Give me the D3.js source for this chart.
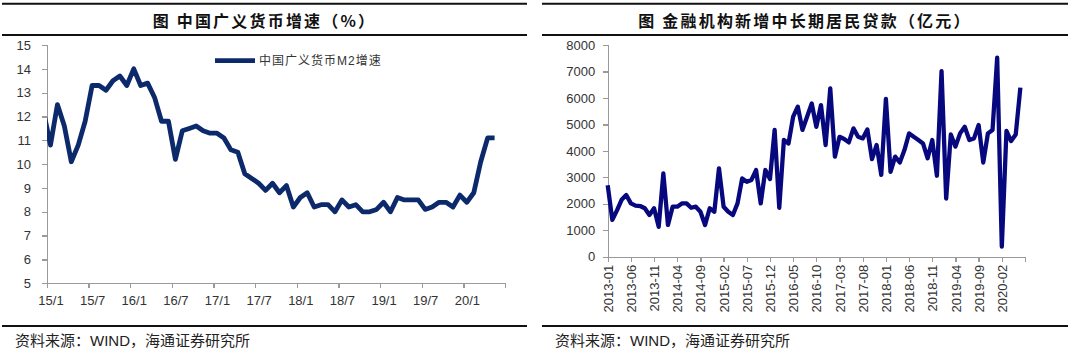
<!DOCTYPE html>
<html>
<head>
<meta charset="utf-8">
<script src="https://cdn.jsdelivr.net/npm/d3@7"></script>
<style>
  body { margin: 0; background: #fff; }
  svg { display: block; }
  .axis path, .axis line { stroke: #9a9a9a; stroke-width: 1.3px; shape-rendering: crispEdges; }
  .axis text { font-family: "Liberation Sans", Arial, sans-serif; font-size: 13px; fill: #333; }
</style>
</head>
<body>
<div id="chart"></div>
<script>
// ---- left chart: M2 growth, monthly, 2014/12 .. 2020/5
var m2Start = [2014, 12];
var m2Values = [12.2,
	10.8, 12.5, 11.6, 10.1, 10.8, 11.8, 13.3, 13.3, 13.1, 13.5, 13.7, 13.3,
	14.0, 13.3, 13.4, 12.8, 11.8, 11.8, 10.2, 11.4, 11.5, 11.6, 11.4, 11.3,
	11.3, 11.1, 10.6, 10.5, 9.6, 9.4, 9.2, 8.9, 9.2, 8.8, 9.1, 8.2,
	8.6, 8.8, 8.2, 8.3, 8.3, 8.0, 8.5, 8.2, 8.3, 8.0, 8.0, 8.1,
	8.4, 8.0, 8.6, 8.5, 8.5, 8.5, 8.1, 8.2, 8.4, 8.4, 8.2, 8.7,
	8.4, 8.8, 10.1, 11.1, 11.1];
var m2TickLabels = ["15/1", "15/7", "16/1", "16/7", "17/1", "17/7", "18/1", "18/7", "19/1", "19/7", "20/1", ""];
var m2YTicks = [5, 6, 7, 8, 9, 10, 11, 12, 13, 14, 15];

// ---- right chart: new medium/long-term household loans, 2013-01 .. 2020-06
var loanStart = [2013, 1];
var loanValues = [
	2700, 1390, 1750, 2150, 2330, 2015, 1930, 1915, 1830, 1575, 1830, 1130,
	3150, 1200, 1890, 1890, 2015, 2015, 1850, 1890, 1700, 1200, 1830, 1700,
	3340, 1890, 1700, 1575, 2015, 2960, 2830, 2900, 3275, 2015, 3275, 2935,
	4790, 1850, 4410, 4280, 5290, 5670, 4790, 5290, 5790, 4910, 5730, 4220,
	6360, 3780, 4530, 4450, 4320, 4850, 4530, 4470, 4810, 3690, 4220, 3090,
	5960, 3210, 3780, 3560, 4030, 4660, 4530, 4410, 4280, 3720, 4410, 3060,
	7010, 2200, 4620, 4160, 4660, 4910, 4410, 4470, 4980, 3560, 4660, 4790,
	7520, 380, 4750, 4370, 4620, 6390];
var loanYTicks = [0, 1000, 2000, 3000, 4000, 5000, 6000, 7000, 8000];

var titles = ["图 中国广义货币增速（%）", "图 金融机构新增中长期居民贷款（亿元）"];
var legendLabel = "中国广义货币M2增速";
var sourceNote = "资料来源：WIND，海通证券研究所";

function monthLabel(start, i, sep, shortYear) {
	var m = start[0] * 12 + (start[1] - 1) + i;
	var y = Math.floor(m / 12), mo = m % 12 + 1;
	if (shortYear) return String(y).slice(2) + sep + mo;
	return y + sep + (mo < 10 ? "0" + mo : mo);
}

var m2Data = m2Values.map(function(v, i) {
	return { idx: i - 1, label: monthLabel(m2Start, i, "/", true), value: v };
});
var loanData = loanValues.map(function(v, i) {
	return { idx: i, label: monthLabel(loanStart, i, "-", false), value: v };
});

var svg = d3.select("#chart").append("svg")
	.attr("width", 1080)
	.attr("height", 353);

svg.append("rect").attr("width", 1080).attr("height", 353).attr("fill", "#fff");

// frame rules + titles + source
var panels = [{ x0: 2, x1: 527, title: titles[0] }, { x0: 542, x1: 1068, title: titles[1] }];
panels.forEach(function(p) {
	[3.7, 35, 326].forEach(function(yy) {
		svg.append("line")
			.attr("x1", p.x0).attr("x2", p.x1)
			.attr("y1", yy).attr("y2", yy)
			.attr("stroke", "#111")
			.attr("stroke-width", 2);
	});
	svg.append("text")
		.attr("x", (p.x0 + p.x1) / 2)
		.attr("y", 20)
		.attr("text-anchor", "middle")
		.attr("dominant-baseline", "central")
		.style("font-family", "'Noto Sans CJK SC', sans-serif")
		.style("font-weight", "bold")
		.style("font-size", "16px")
		.style("letter-spacing", "2.2px")
		.style("fill", "#111")
		.text(p.title);
	svg.append("text")
		.attr("x", p.x0 + 13)
		.attr("y", 340)
		.attr("dominant-baseline", "central")
		.style("font-family", "'Liberation Sans', 'Noto Sans CJK SC', sans-serif")
		.style("font-size", "15px")
		.style("fill", "#222")
		.text(sourceNote);
});

//left chart
var xL = d3.scaleLinear().domain([-0.5, 65.5]).range([47, 505]);
var yL = d3.scaleLinear().domain([5, 15]).range([283.3, 45]);

svg.append("clipPath")
	.attr("id", "clipL")
	.append("rect")
	.attr("x", 47).attr("y", 30)
	.attr("width", 470).attr("height", 260);

svg.append("g")
	.attr("class", "axis")
	.attr("transform", "translate(47,0)")
	.call(d3.axisLeft(yL).tickValues(m2YTicks).tickSize(5).tickPadding(11).tickFormat(d3.format("d")));

var tickIdx = m2TickLabels.map(function(d, k) { return 6 * k; });

svg.append("g")
	.attr("class", "axis")
	.attr("transform", "translate(0,283.3)")
	.call(d3.axisBottom(xL).tickValues(tickIdx.map(function(t) { return t - 0.5; })).tickSize(5).tickFormat(""));

var xlab = svg.append("g")
	.attr("class", "axis")
	.attr("transform", "translate(0,283.3)")
	.call(d3.axisBottom(xL).tickValues(tickIdx).tickSize(0).tickPadding(12)
		.tickFormat(function(d, k) { return m2TickLabels[k]; }));
xlab.select(".domain").remove();

svg.append("path")
	.datum(m2Data)
	.attr("clip-path", "url(#clipL)")
	.attr("fill", "none")
	.attr("stroke", "#0c2a6b")
	.attr("stroke-width", 4.8)
	.attr("stroke-linejoin", "round")
	.attr("d", d3.line().x(function(d) { return xL(d.idx); }).y(function(d) { return yL(d.value); }));

// legend
svg.append("line")
	.attr("x1", 215).attr("x2", 255)
	.attr("y1", 60.7).attr("y2", 60.7)
	.attr("stroke", "#0c2a6b")
	.attr("stroke-width", 4.8);
svg.append("text")
	.attr("x", 259)
	.attr("y", 60.7)
	.attr("dominant-baseline", "central")
	.style("font-family", "'Liberation Sans', 'Noto Sans CJK SC', sans-serif")
	.style("font-size", "12px")
	.style("letter-spacing", "1px")
	.style("fill", "#333")
	.text(legendLabel);

//right chart
var xR = d3.scaleLinear().domain([0, 90]).range([607.7, 1025]);
var yR = d3.scaleLinear().domain([0, 8000]).range([256.7, 45]);

svg.append("g")
	.attr("class", "axis")
	.attr("transform", "translate(607.7,0)")
	.call(d3.axisLeft(yR).tickValues(loanYTicks).tickSize(5).tickPadding(7.5).tickFormat(d3.format("d")));

var loanTicks = d3.range(0, 91, 5);
var xAxR = svg.append("g")
	.attr("class", "axis")
	.attr("transform", "translate(0,256.7)")
	.call(d3.axisBottom(xR).tickValues(loanTicks).tickSize(5)
		.tickFormat(function(d) { return d < loanData.length ? loanData[d].label : ""; }));
xAxR.selectAll("text")
	.attr("transform", "rotate(-90)")
	.attr("text-anchor", "end")
	.attr("x", -8)
	.attr("y", 0)
	.attr("dy", "0.35em");

svg.append("path")
	.datum(loanData)
	.attr("fill", "none")
	.attr("stroke", "#08087e")
	.attr("stroke-width", 4.3)
	.attr("stroke-linejoin", "round")
	.attr("d", d3.line().x(function(d) { return xR(d.idx); }).y(function(d) { return yR(d.value); }));
</script>
</body>
</html>
